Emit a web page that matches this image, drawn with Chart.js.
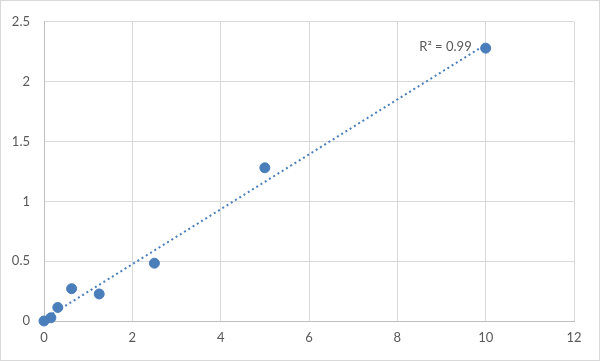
<!DOCTYPE html>
<html>
<head>
<meta charset="utf-8">
<script src="https://cdn.jsdelivr.net/npm/chart.js@4/dist/chart.umd.min.js"></script>
<style>
  html, body { margin: 0; padding: 0; background: #fff; }
  #wrap { width: 600px; height: 361px; position: relative; }
</style>
</head>
<body>
<div id="wrap"><canvas id="scatterChart"></canvas></div>
<script>
const xValues = [0, 0.156, 0.3125, 0.625, 1.25, 2.5, 5, 10];
const yValues = [0, 0.027, 0.113, 0.27, 0.226, 0.483, 1.28, 2.28];
const xTicks = [0, 2, 4, 6, 8, 10, 12];
const yTicks = [0, 0.5, 1, 1.5, 2, 2.5];
const r2Label = 'R² = 0.99';

const BLUE = '#4a7ebb';
const GRID = '#d9d9d9';
const TEXT = '#595959';
const FONT = "Lato, 'Open Sans', sans-serif";

// least squares trendline, from the points themselves
function linFit (xs, ys) {
    const n = xs.length;
    const mx = xs.reduce((a, b) => a + b, 0) / n;
    const my = ys.reduce((a, b) => a + b, 0) / n;
    let sxx = 0, sxy = 0;
    for (let i = 0; i < n; i++) {
        sxx += (xs[i] - mx) * (xs[i] - mx);
        sxy += (xs[i] - mx) * (ys[i] - my);
    }
    const slope = sxy / sxx;
    return { slope: slope, intercept: my - slope * mx };
}
const fit = linFit(xValues, yValues);
const xMin = Math.min(...xValues), xMax = Math.max(...xValues);
const trend = [
    { x: xMin, y: fit.intercept + fit.slope * xMin },
    { x: xMax, y: fit.intercept + fit.slope * xMax }
];
const points = xValues.map((x, i) => ({ x: x, y: yValues[i] }));

const frame = {
    id: 'frame',
    afterDraw (chart) {
        const ctx = chart.ctx;
        ctx.save();
        ctx.strokeStyle = GRID;
        ctx.lineWidth = 1;
        ctx.strokeRect(0.5, 0.5, chart.width - 1, chart.height - 1);
        // R² label next to the last point
        const xs = chart.scales.x, ys = chart.scales.y;
        const px = xs.getPixelForValue(xMax), py = ys.getPixelForValue(yValues[yValues.length - 1]);
        ctx.fillStyle = TEXT;
        ctx.font = '13px ' + FONT;
        ctx.textAlign = 'right';
        ctx.textBaseline = 'middle';
        ctx.fillText(r2Label, px - 14, py - 1);
        ctx.restore();
    }
};

new Chart(document.getElementById('scatterChart'), {
    type: 'scatter',
    data: {
        datasets: [
            {
                data: points,
                backgroundColor: BLUE,
                borderColor: BLUE,
                pointRadius: 5,
                pointHoverRadius: 5,
                clip: false,
                order: 0
            },
            {
                data: trend,
                type: 'line',
                showLine: true,
                borderColor: BLUE,
                borderWidth: 2,
                borderDash: [2, 3],
                pointRadius: 0,
                fill: false,
                order: 1
            }
        ]
    },
    options: {
        responsive: true,
        maintainAspectRatio: false,
        animation: false,
        devicePixelRatio: 1,
        layout: { padding: { left: 0, top: 20, right: 26, bottom: 0 } },
        plugins: { legend: { display: false }, tooltip: { enabled: false } },
        scales: {
            x: {
                type: 'linear',
                min: 0, max: 12,
                afterBuildTicks: s => { s.ticks = xTicks.map(v => ({ value: v })); },
                afterFit: s => { s.height = 40; },
                grid: { color: GRID, drawTicks: false },
                border: { color: '#bfbfbf' },
                ticks: { color: TEXT, font: { family: FONT, size: 13 }, padding: 9, callback: v => String(v) }
            },
            y: {
                type: 'linear',
                min: 0, max: 2.5,
                afterBuildTicks: s => { s.ticks = yTicks.map(v => ({ value: v })); },
                afterFit: s => { s.width = 44; },
                grid: { color: GRID, drawTicks: false },
                border: { color: '#bfbfbf' },
                ticks: { color: TEXT, font: { family: FONT, size: 13 }, padding: 14, callback: v => String(v) }
            }
        }
    },
    plugins: [frame]
});
</script>
</body>
</html>
